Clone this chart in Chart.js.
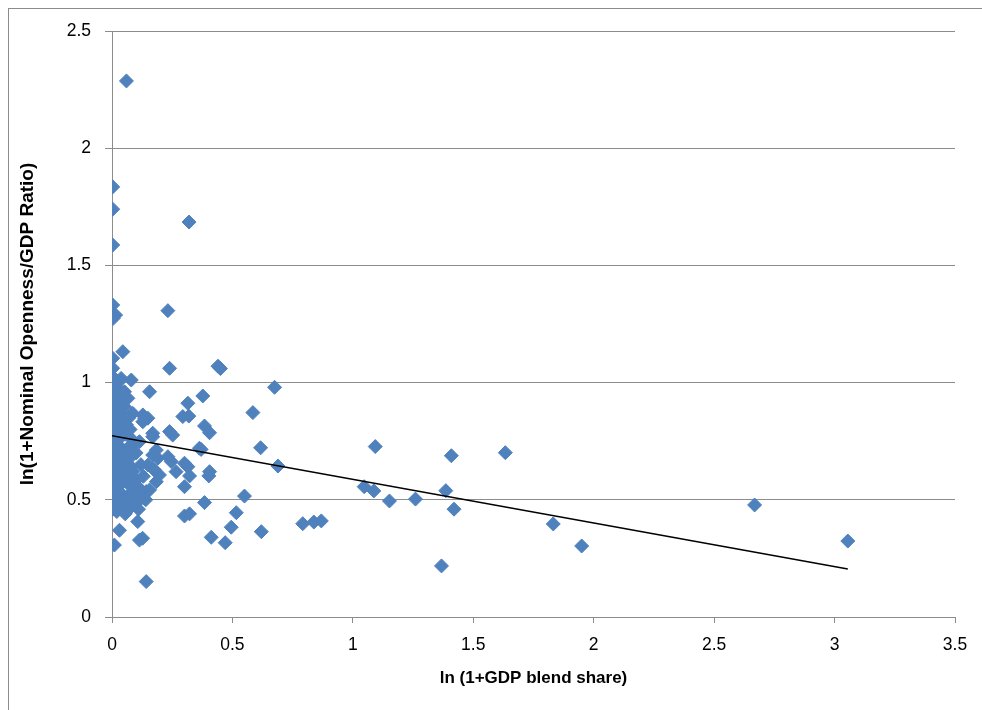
<!DOCTYPE html>
<html>
<head>
<meta charset="utf-8">
<title>Openness vs GDP blend share</title>
<script src="https://cdn.jsdelivr.net/npm/chart.js@4.4.1/dist/chart.umd.min.js"></script>
<style>
    html, body { margin: 0; padding: 0; background: #ffffff; }
    #wrap { position: relative; width: 982px; height: 710px; overflow: hidden; }
    #frame { position: absolute; left: 8px; top: 8px; width: 1000px; height: 1000px; border: 1px solid #8c8c8c; box-sizing: border-box; }
    canvas { position: absolute; left: 0; top: 0; }
</style>
</head>
<body>
<div id="wrap">
    <div id="frame"></div>
    <canvas id="scatterChart" width="982" height="710"></canvas>
</div>
<script>
// ln(1+GDP blend share) - eixo x
const blendShare = [
    0.003, 0.003, 0.003, 0.003, 0.003, 0.015, 0.005, 0.003, 0.003, 0.003,
    0.005, 0.003, 0.008, 0.003, 0.006, 0.003, 0.008, 0.003, 0.006, 0.003,
    0.008, 0.003, 0.005, 0.003, 0.008, 0.003, 0.006, 0.003, 0.008, 0.003,
    0.006, 0.003, 0.008, 0.003, 0.006, 0.003, 0.010,
    0.045, 0.038, 0.025, 0.030, 0.020, 0.035, 0.025, 0.040, 0.020, 0.030,
    0.040, 0.025, 0.035, 0.020, 0.030, 0.040, 0.025, 0.035, 0.020, 0.040,
    0.030, 0.025, 0.040, 0.020, 0.035, 0.031, 0.025, 0.040, 0.020, 0.031,
    0.060, 0.080, 0.052, 0.066, 0.052, 0.086, 0.070, 0.060, 0.075, 0.055,
    0.080, 0.086, 0.065, 0.055, 0.075, 0.060, 0.080, 0.086, 0.065, 0.055,
    0.075, 0.085, 0.073, 0.060, 0.050, 0.070, 0.055,
    0.128, 0.135, 0.149, 0.128, 0.156, 0.169, 0.114, 0.100, 0.169, 0.184,
    0.169, 0.190, 0.149, 0.169, 0.197, 0.176, 0.100, 0.114, 0.142, 0.156,
    0.184, 0.121, 0.086, 0.100, 0.140, 0.107, 0.114, 0.127, 0.142, 0.120,
    0.130, 0.110,
    0.232, 0.239, 0.440, 0.450, 0.675, 0.377, 0.315, 0.585, 0.294, 0.319,
    0.384, 0.405, 0.370, 0.617, 0.689, 0.301, 0.315, 0.322, 0.301, 0.405,
    0.402, 0.550, 0.384, 0.301, 0.322, 0.516, 0.495, 0.412, 0.470, 0.620,
    0.320, 0.252, 0.239, 0.232, 0.246, 0.266, 0.363,
    0.792, 0.838, 0.869, 1.047, 1.087, 1.093, 1.152, 1.260, 1.368, 1.386,
    1.409, 1.420, 1.633, 1.832, 1.950, 2.668, 3.055
];

// ln(1+Nominal Openness/GDP Ratio) - eixo y
const openness = [
    1.835, 1.740, 1.587, 1.331, 1.284, 1.288, 1.274, 1.104, 1.061, 1.025,
    0.990, 0.960, 0.930, 0.910, 0.885, 0.860, 0.840, 0.820, 0.800, 0.780,
    0.760, 0.740, 0.720, 0.700, 0.680, 0.660, 0.640, 0.620, 0.600, 0.580,
    0.560, 0.540, 0.520, 0.500, 0.480, 0.460, 0.307,
    1.132, 1.018, 1.000, 0.970, 0.945, 0.920, 0.895, 0.870, 0.850, 0.830,
    0.810, 0.790, 0.770, 0.750, 0.730, 0.710, 0.690, 0.670, 0.650, 0.630,
    0.610, 0.590, 0.570, 0.550, 0.530, 0.513, 0.490, 0.470, 0.450, 0.370,
    2.287, 1.011, 0.961, 0.933, 0.897, 0.869, 0.850, 0.820, 0.800, 0.780,
    0.760, 0.734, 0.720, 0.700, 0.680, 0.660, 0.640, 0.620, 0.600, 0.580,
    0.560, 0.535, 0.513, 0.500, 0.480, 0.460, 0.440,
    0.862, 0.848, 0.848, 0.833, 0.961, 0.784, 0.748, 0.700, 0.769, 0.712,
    0.691, 0.677, 0.648, 0.634, 0.606, 0.627, 0.584, 0.549, 0.535, 0.542,
    0.577, 0.506, 0.492, 0.510, 0.500, 0.407, 0.328, 0.336, 0.151, 0.650,
    0.600, 0.460,
    1.307, 1.061, 1.070, 1.060, 0.980, 0.943, 0.912, 0.872, 0.855, 0.857,
    0.815, 0.786, 0.715, 0.722, 0.644, 0.656, 0.641, 0.602, 0.556, 0.620,
    0.602, 0.516, 0.488, 0.431, 0.440, 0.445, 0.383, 0.340, 0.317, 0.364,
    1.685, 0.776, 0.791, 0.684, 0.663, 0.620, 0.720,
    0.398, 0.405, 0.410, 0.556, 0.538, 0.727, 0.495, 0.503, 0.218, 0.539,
    0.688, 0.460, 0.701, 0.397, 0.303, 0.478, 0.324
];

// Linha de tendencia (pontos inicial e final)
const trendX = [0, 3.055];
const trendY = [0.773, 0.205];

// Marcas dos eixos
const xTickValues = [0, 0.5, 1, 1.5, 2, 2.5, 3, 3.5];
const yTickValues = [0, 0.5, 1, 1.5, 2, 2.5];

const gridColor = '#8c8c8c';
const tickFont = { family: 'Liberation Sans', size: 17.5 };

function desenharGrafico() {
    const pontos = blendShare.map((x, i) => ({ x: x, y: openness[i] }));
    const tendencia = trendX.map((x, i) => ({ x: x, y: trendY[i] }));

    new Chart(document.getElementById('scatterChart'), {
        type: 'scatter',
        data: {
            datasets: [
                {
                    type: 'line',
                    label: 'Linear',
                    data: tendencia,
                    borderColor: '#000000',
                    borderWidth: 1.5,
                    pointRadius: 0,
                    fill: false,
                    order: 0
                },
                {
                    label: 'Pontos',
                    data: pontos,
                    pointStyle: 'rectRot',
                    pointRadius: 7,
                    pointHoverRadius: 7,
                    backgroundColor: '#4f81bd',
                    borderColor: '#4f81bd',
                    borderWidth: 1,
                    order: 1
                }
            ]
        },
        options: {
            responsive: false,
            animation: false,
            layout: { padding: { top: 31, right: 27, left: 0, bottom: 0 } },
            plugins: {
                legend: { display: false },
                tooltip: { enabled: false }
            },
            scales: {
                x: {
                    type: 'linear',
                    min: 0,
                    max: 3.5,
                    afterBuildTicks: scale => { scale.ticks = xTickValues.map(v => ({ value: v })); },
                    afterFit: scale => { scale.height = 93; },
                    grid: { drawOnChartArea: false, color: gridColor, tickLength: 6 },
                    border: { color: gridColor },
                    ticks: { color: '#000000', font: tickFont, padding: 12, maxRotation: 0, callback: v => String(v) },
                    title: {
                        display: true,
                        text: 'ln (1+GDP blend share)',
                        color: '#000000',
                        font: { family: 'Liberation Sans', size: 17, weight: 'bold' },
                        padding: { top: 0, bottom: 21 }
                    }
                },
                y: {
                    type: 'linear',
                    min: 0,
                    max: 2.5,
                    afterBuildTicks: scale => { scale.ticks = yTickValues.map(v => ({ value: v })); },
                    afterFit: scale => { scale.width = 112; },
                    grid: { color: gridColor, tickLength: 7 },
                    border: { color: gridColor },
                    ticks: { color: '#000000', font: tickFont, padding: 14, callback: v => String(v) },
                    title: {
                        display: true,
                        text: 'ln(1+Nominal Openness/GDP Ratio)',
                        color: '#000000',
                        font: { family: 'Liberation Sans', size: 19, weight: 'bold' },
                        padding: { top: 16, bottom: 0 }
                    }
                }
            }
        }
    });
}

desenharGrafico();
</script>
</body>
</html>
